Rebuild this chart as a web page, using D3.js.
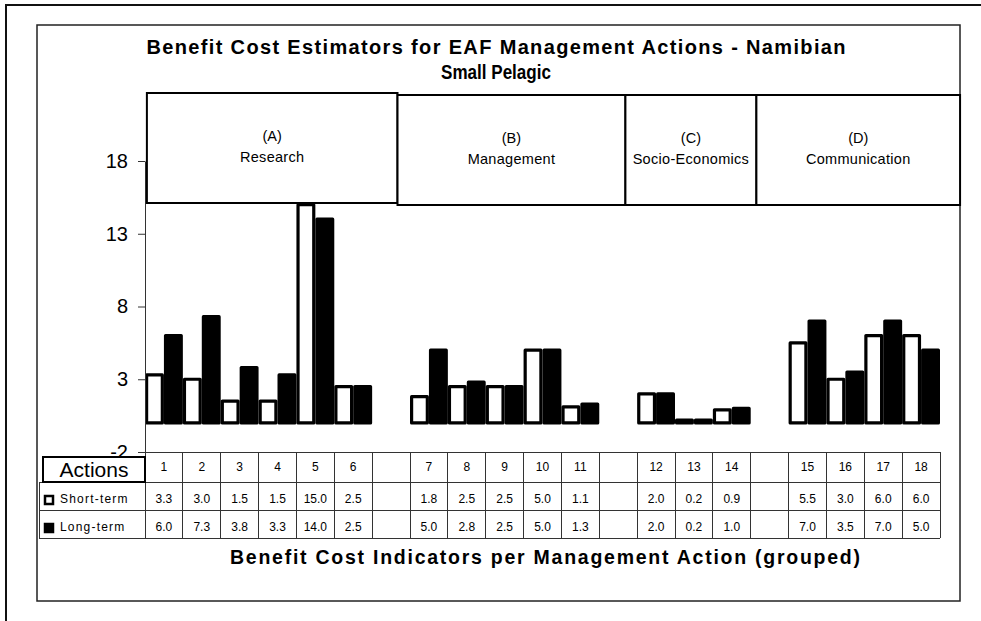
<!DOCTYPE html>
<html>
<head>
<meta charset="utf-8">
<script src="https://cdn.jsdelivr.net/npm/d3@7"></script>
<style>
  body { margin: 0; background: #fff; }
  svg { display: block; font-family: "Liberation Sans", Arial, sans-serif; }
</style>
</head>
<body>
<div id="root"></div>
<script>
// ###### data ######
const actions = ['1', '2', '3', '4', '5', '6', '7', '8', '9', '10', '11', '12', '13', '14', '15', '16', '17', '18'];
const shortTerm = [3.3, 3.0, 1.5, 1.5, 15.0, 2.5, 1.8, 2.5, 2.5, 5.0, 1.1, 2.0, 0.2, 0.9, 5.5, 3.0, 6.0, 6.0];
const longTerm = [6.0, 7.3, 3.8, 3.3, 14.0, 2.5, 5.0, 2.8, 2.5, 5.0, 1.3, 2.0, 0.2, 1.0, 7.0, 3.5, 7.0, 5.0];
const groupLetters = ['(A)', '(B)', '(C)', '(D)'];
const groupNames = ['Research', 'Management', 'Socio-Economics', 'Communication'];
const groupSizes = [6, 5, 3, 4];
const yTicks = [-2, 3, 8, 13, 18];
const seriesNames = ['Short-term', 'Long-term'];

const width = 981, height = 621;
const font = '"Liberation Sans", Arial, sans-serif';

const svg = d3.select('#root').append('svg')
  .attr('width', width)
  .attr('height', height)
  .attr('viewBox', [0, 0, width, height]);

// outer frame (runs off the page right and bottom) and the chart area
svg.append('rect')
  .attr('x', 6).attr('y', 5).attr('width', 1000).attr('height', 700)
  .attr('fill', 'none').attr('stroke', '#111').attr('stroke-width', 2);
svg.append('rect')
  .attr('x', 37).attr('y', 25).attr('width', 923).attr('height', 576)
  .attr('fill', 'white').attr('stroke', '#222').attr('stroke-width', 1.5);

// a blank column sits between the groups, like in the data table
const columns = [];
let k = 0;
groupSizes.forEach((n, gi) => {
  for (let i = 0; i < n; i++) columns.push(actions[k++]);
  if (gi < groupSizes.length - 1) columns.push('gap' + gi);
});

const x = d3.scaleBand().domain(columns).range([145, 940]).padding(0);
const xInner = d3.scaleBand().domain(['short', 'long']).range([0, x.bandwidth()]);
const y = d3.scaleLinear().domain([-2, 18]).range([452, 161]);

const rows = actions.map((a, i) => ({ action: a, short: shortTerm[i], long: longTerm[i] }));

// bars: one g per action, two rects inside
const barGroups = svg.append('g')
  .selectAll('g')
  .data(rows)
  .join('g')
  .attr('transform', (d) => `translate(${x(d.action)},0)`);

barGroups.selectAll('rect')
  .data((d) => [{ key: 'short', v: d.short }, { key: 'long', v: d.long }])
  .join('rect')
  .attr('x', (d) => xInner(d.key) + 1.6)
  .attr('width', xInner.bandwidth() - 3.2)
  .attr('y', (d) => y(d.v))
  .attr('height', (d) => y(0) - y(d.v))
  .attr('fill', (d) => d.key === 'short' ? 'white' : 'black')
  .attr('stroke', 'black')
  .attr('stroke-width', 3.2)
  .attr('stroke-linejoin', 'round');

// y axis
const yAxis = svg.append('g')
  .attr('transform', `translate(${x.range()[0]},0)`)
  .call(d3.axisLeft(y).tickValues(yTicks).tickSize(7).tickSizeOuter(0).tickPadding(10)
    .tickFormat((d) => String(d)))
  .attr('font-family', font)
  .attr('font-size', 20);
yAxis.select('.domain').attr('stroke', '#333');
yAxis.selectAll('.tick line').attr('stroke', '#333');
yAxis.selectAll('.tick text').attr('fill', 'black');

// data table under the plot
const tableTop = y(-2);
const rowLines = [482, 510, 538];
const xLeft = x.range()[0], xRight = x.range()[1];
const table = svg.append('g').attr('stroke', '#333').attr('stroke-width', 1).attr('shape-rendering', 'crispEdges');

table.append('line').attr('x1', xLeft).attr('x2', xRight).attr('y1', tableTop).attr('y2', tableTop);
table.selectAll('line.row')
  .data(rowLines)
  .join('line')
  .attr('class', 'row')
  .attr('x1', 39).attr('x2', xRight)
  .attr('y1', (d) => d).attr('y2', (d) => d);
table.selectAll('line.col')
  .data(columns.map((c) => x(c)).concat([xRight]))
  .join('line')
  .attr('class', 'col')
  .attr('x1', (d) => d).attr('x2', (d) => d)
  .attr('y1', tableTop).attr('y2', rowLines[2]);
table.append('line').attr('x1', 39).attr('x2', 39).attr('y1', rowLines[0]).attr('y2', rowLines[2]);

const cells = svg.append('g')
  .attr('font-family', font)
  .attr('font-size', 12)
  .attr('text-anchor', 'middle')
  .selectAll('g')
  .data(rows)
  .join('g')
  .attr('transform', (d) => `translate(${x(d.action) + x.bandwidth() / 2},0)`);

cells.append('text').attr('y', 471).text((d) => d.action);
cells.append('text').attr('y', 503).text((d) => d.short.toFixed(1));
cells.append('text').attr('y', 531).text((d) => d.long.toFixed(1));

// legend keys in the table rows
const legend = svg.append('g').attr('font-family', font).attr('font-size', 12);
legend.selectAll('rect')
  .data(seriesNames)
  .join('rect')
  .attr('x', 45).attr('y', (d, i) => 496 + i * 28)
  .attr('width', 8).attr('height', 8)
  .attr('fill', (d, i) => i === 0 ? 'white' : 'black')
  .attr('stroke', 'black').attr('stroke-width', 2.5);
legend.selectAll('text')
  .data(seriesNames)
  .join('text')
  .attr('x', 60).attr('y', (d, i) => 503 + i * 28)
  .attr('letter-spacing', 1.2)
  .text((d) => d);

// "Actions" header box, drawn over the bottom of the -2 label as in the source
svg.append('rect')
  .attr('x', 43).attr('y', 457).attr('width', 102).attr('height', 25)
  .attr('fill', 'white').attr('stroke', 'black').attr('stroke-width', 2);
svg.append('text')
  .attr('x', 94).attr('y', 476.5)
  .attr('text-anchor', 'middle')
  .attr('font-family', font).attr('font-size', 21)
  .text('Actions');

// group label boxes over the plot, edges in column units
const boxEdges = [0.05, 6.67, 12.69, 16.15, 21.53];
const colPos = (u) => xLeft + u * x.bandwidth();
const boxTops = [93, 95, 95, 95];
const boxes = svg.append('g')
  .selectAll('g')
  .data(groupNames.map((name, i) => ({ name, letter: groupLetters[i], x0: colPos(boxEdges[i]), x1: colPos(boxEdges[i + 1]), top: boxTops[i] })))
  .join('g');

boxes.append('rect')
  .attr('x', (d) => d.x0).attr('y', (d) => d.top)
  .attr('width', (d) => d.x1 - d.x0).attr('height', 110)
  .attr('fill', 'white').attr('stroke', 'black').attr('stroke-width', 2);
boxes.append('text')
  .attr('x', (d) => (d.x0 + d.x1) / 2).attr('y', (d) => d.top + 48)
  .attr('text-anchor', 'middle').attr('font-family', font).attr('font-size', 14.5)
  .text((d) => d.letter);
boxes.append('text')
  .attr('x', (d) => (d.x0 + d.x1) / 2).attr('y', (d) => d.top + 69)
  .attr('text-anchor', 'middle').attr('font-family', font).attr('font-size', 14.5)
  .attr('letter-spacing', 0.3)
  .text((d) => d.name);

// titles
svg.append('text')
  .attr('x', 496).attr('y', 54)
  .attr('text-anchor', 'middle').attr('font-family', font)
  .attr('font-size', 20).attr('font-weight', 'bold')
  .attr('textLength', 699).attr('lengthAdjust', 'spacing')
  .text('Benefit Cost Estimators for EAF Management Actions - Namibian');
svg.append('text')
  .attr('x', 496).attr('y', 79)
  .attr('text-anchor', 'middle').attr('font-family', font)
  .attr('font-size', 20).attr('font-weight', 'bold')
  .attr('textLength', 110).attr('lengthAdjust', 'spacingAndGlyphs')
  .text('Small Pelagic');
svg.append('text')
  .attr('x', 545).attr('y', 564)
  .attr('text-anchor', 'middle').attr('font-family', font)
  .attr('font-size', 19.5).attr('font-weight', 'bold')
  .attr('textLength', 630).attr('lengthAdjust', 'spacing')
  .text('Benefit Cost Indicators per Management Action (grouped)');
</script>
</body>
</html>
